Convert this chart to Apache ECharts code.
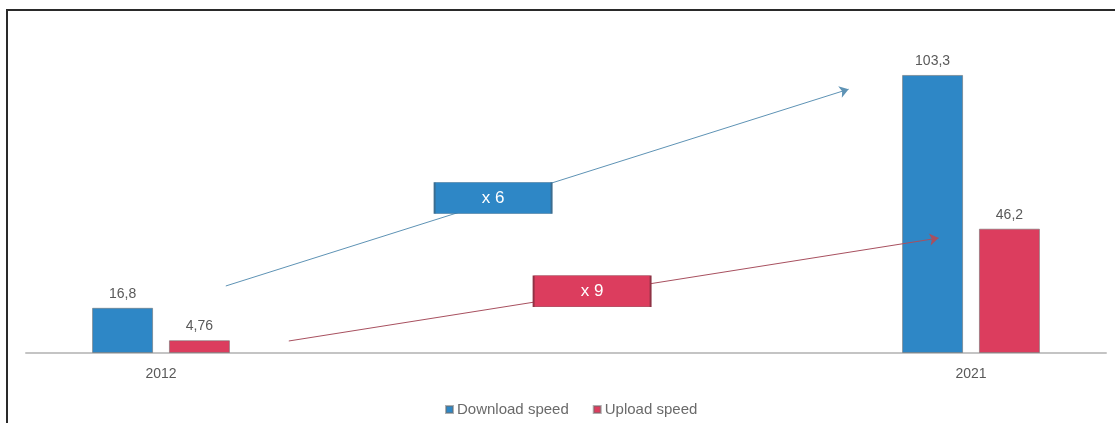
<!DOCTYPE html>
<html>
<head>
<meta charset="utf-8">
<style>
  html, body { margin: 0; padding: 0; background: #fff; }
  #chart { width: 1115px; height: 423px; }
</style>
<script src="https://cdn.jsdelivr.net/npm/echarts@6/dist/echarts.min.js"></script>
</head>
<body>
<div id="chart"></div>
<script>
// Broadband speeds (Mbit/s), 2012 vs 2021
const years = [2012, 2021];
const yearLabels = ['2012', '2021'];
const downloadSpeed = [16.8, 103.3];
const uploadSpeed = [4.76, 46.2];
const seriesNames = ['Download speed', 'Upload speed'];
const growthLabels = ['x 6', 'x 9'];

const BLUE = '#2e87c6';
const RED = '#dc3d5e';
const TEXT = '#595959';
const FONT = 'Liberation Sans, Arial, sans-serif';

const fmt = v => String(v).replace('.', ',');

const chart = echarts.init(document.getElementById('chart'), null, { renderer: 'canvas' });

function barSeries(name, values, color) {
  return {
    name: name,
    type: 'bar',
    barWidth: 61,
    barGap: '26%',
    data: years.map((y, i) => [y, values[i]]),
    itemStyle: { color: color, borderColor: 'rgba(110,110,110,0.55)', borderWidth: 1 },
    label: {
      show: true, position: 'top', distance: 7,
      color: TEXT, fontSize: 14, fontFamily: FONT,
      formatter: p => fmt(p.value[1])
    },
    emphasis: { disabled: true }
  };
}

// Growth arrows and their multiplier boxes, anchored in data units
const arrows = [
  { from: [2012.72, 24.9], to: [2019.64, 98.0], color: '#5e93b5' },
  { from: [2013.42, 4.46], to: [2020.64, 42.7], color: '#a8505f' }
];
const boxes = [
  { at: [2015.69, 57.6], fill: BLUE, border: '#3b6d90' },
  { at: [2016.79, 22.9], fill: RED, border: '#8f3345' }
];

const annotations = {
  name: 'growth',
  type: 'line',
  data: [],
  silent: true,
  markLine: {
    silent: true, z: 4,
    symbol: ['none', 'arrow'], symbolSize: 9,
    label: { show: false },
    data: arrows.map(a => [
      { coord: a.from, lineStyle: { type: 'solid', width: 1, color: a.color } },
      { coord: a.to }
    ])
  },
  markPoint: {
    silent: true, z: 10,
    symbol: 'rect', symbolSize: [117, 31],
    label: {
      show: true, position: 'inside', color: '#fff', fontSize: 17, fontFamily: FONT
    },
    data: boxes.map((b, i) => ({
      coord: b.at,
      value: growthLabels[i],
      itemStyle: { color: b.fill, borderColor: b.border, borderWidth: 1 },
      label: { formatter: growthLabels[i] }
    }))
  }
};

const option = {
  animation: false,
  backgroundColor: '#fff',
  grid: { left: 26, right: 9, top: 30, bottom: 70 },
  xAxis: {
    type: 'value',
    min: 2010.5, max: 2022.5,
    splitLine: { show: false },
    axisTick: { show: false },
    axisLine: { show: true, lineStyle: { color: '#c4c4c4', width: 2 } },
    axisLabel: {
      customValues: years,
      margin: 14,
      color: TEXT, fontSize: 14, fontFamily: FONT,
      formatter: v => yearLabels[years.indexOf(v)] || ''
    }
  },
  yAxis: {
    type: 'value', min: 0, max: 120, show: false,
    splitLine: { show: false }
  },
  legend: {
    left: 440, top: 397,
    icon: 'rect', itemWidth: 7, itemHeight: 7, itemGap: 24,
    textStyle: { color: '#6a6a6a', fontSize: 15, fontFamily: FONT, padding: [0, 0, 0, -1] },
    data: seriesNames
  },
  graphic: [{
    type: 'polyline',
    shape: { points: [[7, 423], [7, 10], [1115, 10]] },
    style: { stroke: '#2a2a2a', lineWidth: 2, fill: null },
    silent: true
  }],
  series: [
    barSeries(seriesNames[0], downloadSpeed, BLUE),
    barSeries(seriesNames[1], uploadSpeed, RED),
    annotations
  ]
};

chart.setOption(option);
</script>
</body>
</html>
